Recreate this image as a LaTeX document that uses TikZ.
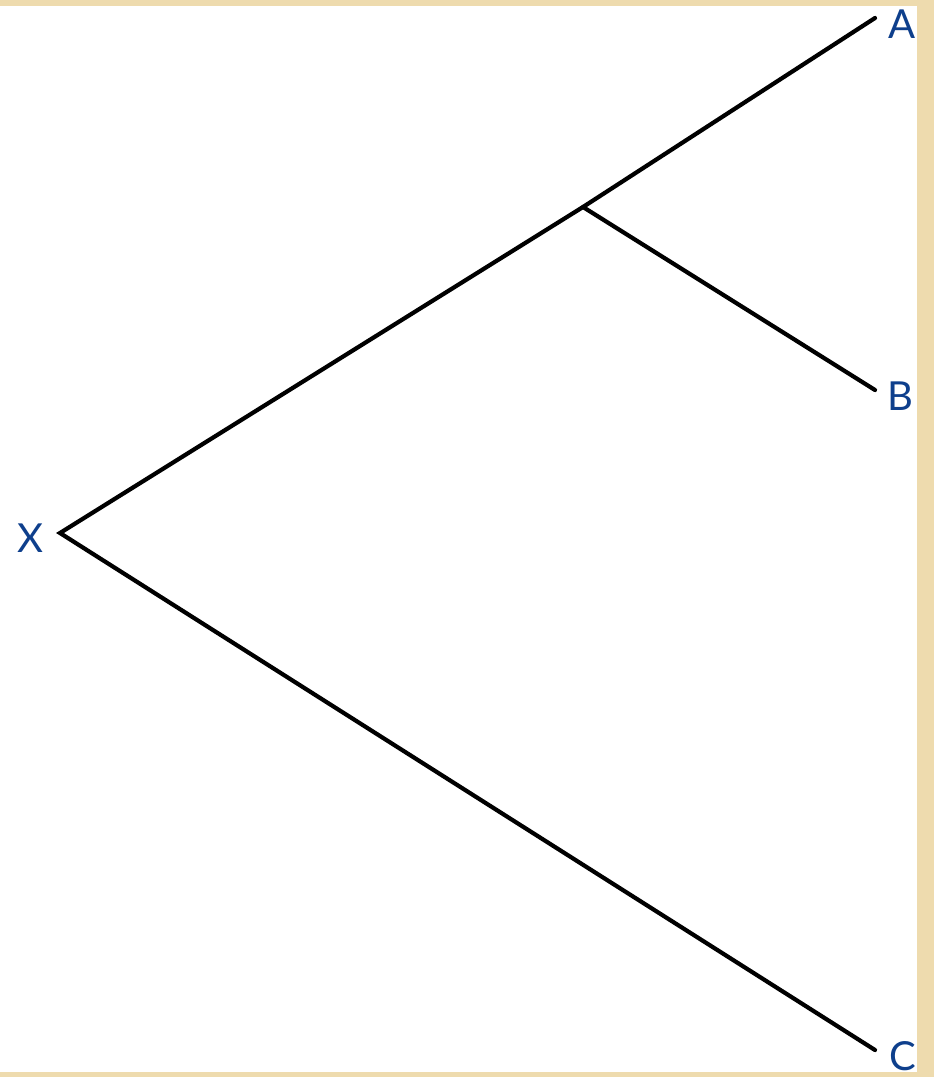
\documentclass[tikz,border=0pt]{standalone}
\usepackage{fontspec}
\setmainfont{Lato}
\definecolor{parch}{HTML}{EEDBAE}
\definecolor{lbl}{HTML}{0E3F8C}
\tikzset{
  lab/.style={text=lbl, font=\fontsize{40}{40}\selectfont, inner sep=0pt},
  branch/.style={line width=4.2pt, black, line cap=round}
}
\begin{document}
\begin{tikzpicture}[x=1pt,y=-1pt]
\fill[parch] (0,0) rectangle (934,1077);
\fill[white] (0,6) rectangle (917,1072);
\useasboundingbox (0,0) rectangle (934,1077);
\coordinate (x) at (60,533);
\coordinate (j) at (583,207);
\coordinate (a) at (875,18);
\coordinate (b) at (875,390);
\coordinate (c) at (875,1050);
\draw[branch] (a) -- (j) -- (x) -- (c);
\draw[branch] (j) -- (b);
\node[lab] (la) at (902,24) {A};
\node[lab] (lb) at (900,396) {B};
\node[lab] (lx) at (30,538) {X};
\node[lab] (lc) at (903,1056) {C};
\end{tikzpicture}
\end{document}
